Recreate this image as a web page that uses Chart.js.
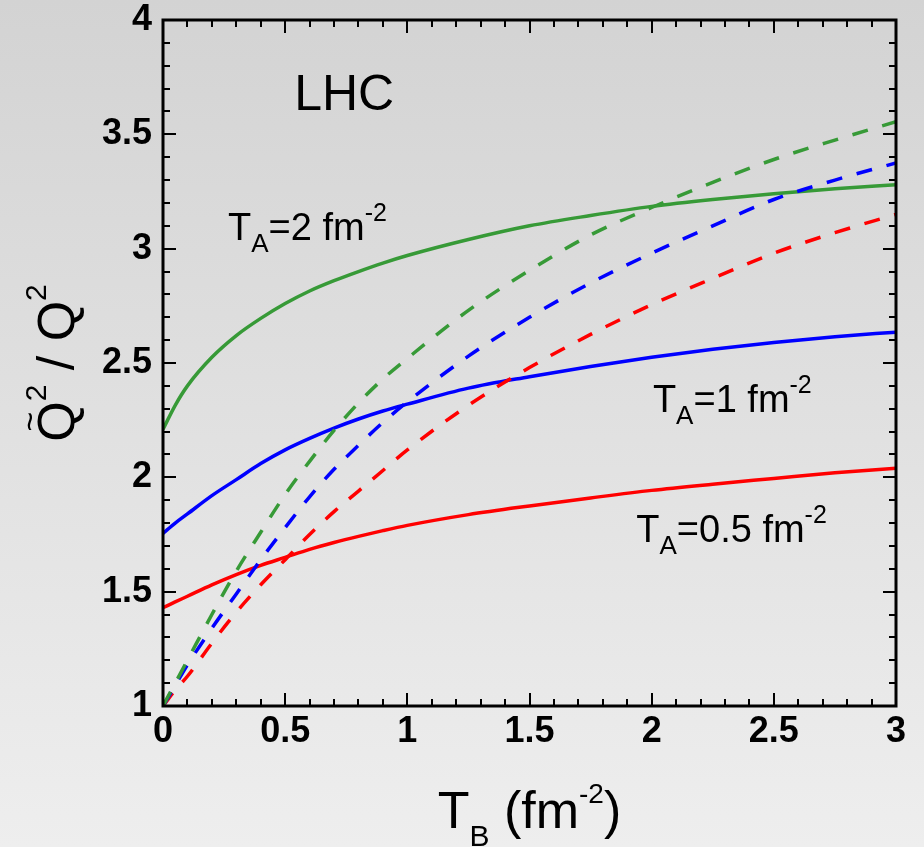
<!DOCTYPE html>
<html>
<head>
<meta charset="utf-8">
<script src="https://cdn.jsdelivr.net/npm/chart.js@4.4.0/dist/chart.umd.min.js"></script>
<style>
  html, body { margin: 0; padding: 0; }
  body { width: 924px; height: 847px; overflow: hidden;
         background: linear-gradient(to bottom, #d3d3d3 0%, #eeeeee 100%); }
  #wrap { position: relative; width: 924px; height: 847px; }
</style>
</head>
<body>
<div id="wrap"><canvas id="c"></canvas></div>
<script>
// ---------- data ----------
const tB = [0, 0.05, 0.1, 0.2, 0.3, 0.4, 0.5, 0.6, 0.7, 0.8, 0.9, 1.0, 1.25, 1.5, 1.75, 2.0, 2.25, 2.5, 2.75, 3.0];

const solidTA2  = [2.21, 2.315, 2.40, 2.525, 2.62, 2.695, 2.76, 2.815, 2.86, 2.90, 2.937, 2.97, 3.04, 3.10, 3.145, 3.185, 3.215, 3.24, 3.262, 3.28];
const solidTA1  = [1.755, 1.80, 1.84, 1.92, 1.99, 2.06, 2.12, 2.17, 2.215, 2.255, 2.29, 2.32, 2.39, 2.44, 2.485, 2.525, 2.56, 2.59, 2.615, 2.635];
const solidTA05 = [1.43, 1.455, 1.48, 1.53, 1.575, 1.615, 1.65, 1.685, 1.715, 1.742, 1.767, 1.79, 1.837, 1.875, 1.91, 1.943, 1.97, 1.995, 2.02, 2.04];

const dashedTA2  = [1.0, 1.10, 1.20, 1.40, 1.59, 1.76, 1.925, 2.07, 2.205, 2.325, 2.43, 2.52, 2.73, 2.905, 3.06, 3.18, 3.29, 3.39, 3.475, 3.555];
const dashedTA1  = [1.0, 1.09, 1.18, 1.34, 1.49, 1.64, 1.78, 1.915, 2.035, 2.14, 2.24, 2.33, 2.53, 2.70, 2.85, 2.98, 3.10, 3.215, 3.30, 3.375];
const dashedTA05 = [1.0, 1.07, 1.13, 1.275, 1.41, 1.53, 1.64, 1.75, 1.85, 1.94, 2.03, 2.12, 2.315, 2.48, 2.625, 2.755, 2.87, 2.98, 3.07, 3.15];

const xTickValues = [0, 0.5, 1, 1.5, 2, 2.5, 3];
const xTickLabels = ["0", "0.5", "1", "1.5", "2", "2.5", "3"];
const yTickValues = [1, 1.5, 2, 2.5, 3, 3.5, 4];
const yTickLabels = ["1", "1.5", "2", "2.5", "3", "3.5", "4"];
const minorStep = 0.1;

const GREEN = '#379a37', BLUE = '#0000ff', RED = '#ff0000';
const FONT = '"Liberation Sans", Arial, Helvetica, sans-serif';

const pts = ys => tB.map((x, i) => ({ x, y: ys[i] }));
function ds(ys, color, dashed) {
  return {
    data: pts(ys), borderColor: color, backgroundColor: color,
    borderWidth: 3.5, borderDash: dashed ? [16, 15] : [],
    pointRadius: 0, showLine: true, fill: false,
    cubicInterpolationMode: 'monotone'
  };
}

function drawParts(ctx, x, y, parts) {
  let cx = x;
  const pos = [];
  for (const [t, size, dy] of parts) {
    ctx.font = size + 'px ' + FONT;
    ctx.fillText(t, cx, y + dy);
    const w = ctx.measureText(t).width;
    pos.push([cx, w]);
    cx += w;
  }
  return pos;
}
function partsWidth(ctx, parts) {
  let w = 0;
  for (const [t, size] of parts) { ctx.font = size + 'px ' + FONT; w += ctx.measureText(t).width; }
  return w;
}

const framePlugin = {
  id: 'frame',
  afterDatasetsDraw(chart) {
    const { ctx, chartArea: a, scales: { x, y } } = chart;
    ctx.save();
    ctx.strokeStyle = '#000';
    ctx.lineWidth = 2;
    ctx.lineCap = 'butt';
    ctx.beginPath();
    const nx = Math.round((x.max - x.min) / minorStep);
    for (let i = 0; i <= nx; i++) {
      const v = x.min + i * minorStep;
      const px = Math.round(x.getPixelForValue(v));
      const major = xTickValues.some(t => Math.abs(t - v) < 1e-6);
      const len = major ? 13 : 7;
      ctx.moveTo(px, a.bottom); ctx.lineTo(px, a.bottom - len);
      ctx.moveTo(px, a.top); ctx.lineTo(px, a.top + len);
    }
    const ny = Math.round((y.max - y.min) / minorStep);
    for (let i = 0; i <= ny; i++) {
      const v = y.min + i * minorStep;
      const py = Math.round(y.getPixelForValue(v));
      const major = yTickValues.some(t => Math.abs(t - v) < 1e-6);
      const len = major ? 13 : 7;
      ctx.moveTo(a.left, py); ctx.lineTo(a.left + len, py);
      ctx.moveTo(a.right, py); ctx.lineTo(a.right - len, py);
    }
    ctx.stroke();
    ctx.lineWidth = 3;
    ctx.strokeRect(a.left, a.top, a.right - a.left, a.bottom - a.top);
    ctx.restore();
  },
  afterDraw(chart) {
    const { ctx, chartArea: a, scales: { x, y } } = chart;
    ctx.save();
    ctx.fillStyle = '#000';
    ctx.textBaseline = 'alphabetic';
    ctx.textAlign = 'left';

    ctx.font = '50px ' + FONT;
    ctx.fillText('LHC', x.getPixelForValue(0.537), y.getPixelForValue(3.606));

    const lab = v => [['T', 38, 0], ['A', 26, 12], ['=' + v + ' fm', 38, 0], ['-2', 25, -19]];
    drawParts(ctx, x.getPixelForValue(0.266), y.getPixelForValue(3.038), lab('2'));
    drawParts(ctx, x.getPixelForValue(2.005), y.getPixelForValue(2.287), lab('1'));
    drawParts(ctx, x.getPixelForValue(1.937), y.getPixelForValue(1.718), lab('0.5'));

    const xParts = [['T', 52, 0], ['B', 30, 18], [' (fm', 52, 0], ['-2', 28, -25], [')', 52, 0]];
    const xw = partsWidth(ctx, xParts);
    drawParts(ctx, (a.left + a.right) / 2 - xw / 2, 828, xParts);

    const yParts = [['Q', 52, 0], ['2', 30, -28], [' / ', 52, 0], ['Q', 52, 0], ['2', 30, -28]];
    ctx.translate(74, (a.top + a.bottom) / 2);
    ctx.rotate(-Math.PI / 2);
    const yw = partsWidth(ctx, yParts);
    const pos = drawParts(ctx, -yw / 2, 0, yParts);
    ctx.font = '34px ' + FONT;
    ctx.textAlign = 'center';
    ctx.fillText('~', pos[0][0] + pos[0][1] / 2, -33);
    ctx.restore();
  }
};

new Chart(document.getElementById('c'), {
  type: 'scatter',
  data: {
    datasets: [
      ds(dashedTA2, GREEN, true),
      ds(dashedTA1, BLUE, true),
      ds(dashedTA05, RED, true),
      ds(solidTA2, GREEN, false),
      ds(solidTA1, BLUE, false),
      ds(solidTA05, RED, false)
    ]
  },
  options: {
    responsive: true,
    maintainAspectRatio: false,
    animation: false,
    events: [],
    layout: { padding: { left: 0, right: 28, top: 20, bottom: 0 } },
    plugins: { legend: { display: false }, tooltip: { enabled: false }, title: { display: false } },
    scales: {
      x: {
        type: 'linear', min: 0, max: 3,
        grid: { display: false, drawTicks: false },
        border: { display: false },
        afterBuildTicks: s => { s.ticks = xTickValues.map(v => ({ value: v })); },
        afterFit: s => { s.height = 141; s.paddingLeft = 0; s.paddingRight = 0; },
        ticks: {
          color: '#000', padding: 4, maxRotation: 0, autoSkip: false,
          font: { family: FONT, size: 36, weight: 'bold' },
          callback: v => { const i = xTickValues.findIndex(t => Math.abs(t - v) < 1e-9); return i >= 0 ? xTickLabels[i] : ''; }
        }
      },
      y: {
        type: 'linear', min: 1, max: 4,
        grid: { display: false, drawTicks: false },
        border: { display: false },
        afterBuildTicks: s => { s.ticks = yTickValues.map(v => ({ value: v })); },
        afterFit: s => { s.width = 163; s.paddingTop = 0; s.paddingBottom = 0; },
        ticks: {
          color: '#000', padding: 11, autoSkip: false,
          font: { family: FONT, size: 36, weight: 'bold' },
          callback: v => { const i = yTickValues.findIndex(t => Math.abs(t - v) < 1e-9); return i >= 0 ? yTickLabels[i] : ''; }
        }
      }
    }
  },
  plugins: [framePlugin]
});
</script>
</body>
</html>
